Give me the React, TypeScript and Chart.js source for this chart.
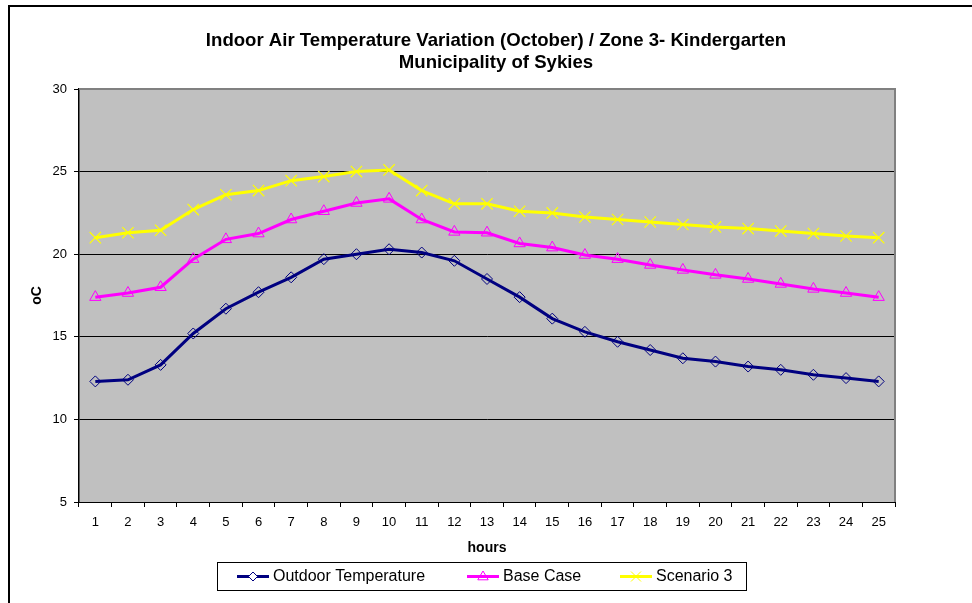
import React, { useEffect, useRef } from 'react';
import { Chart, registerables } from 'chart.js';

Chart.register(...registerables);

const hours = ['1', '2', '3', '4', '5', '6', '7', '8', '9', '10', '11', '12', '13', '14', '15', '16', '17', '18', '19', '20', '21', '22', '23', '24', '25'];
const outdoorTemperature = [12.3, 12.4, 13.3, 15.2, 16.7, 17.7, 18.6, 19.7, 20.0, 20.3, 20.1, 19.6, 18.5, 17.4, 16.1, 15.3, 14.7, 14.2, 13.7, 13.5, 13.2, 13.0, 12.7, 12.5, 12.3];
const baseCase = [17.4, 17.65, 18.0, 19.7, 20.9, 21.25, 22.1, 22.6, 23.1, 23.35, 22.1, 21.35, 21.3, 20.65, 20.4, 19.95, 19.7, 19.35, 19.05, 18.75, 18.5, 18.2, 17.9, 17.65, 17.4];
const scenario3 = [21.0, 21.3, 21.45, 22.7, 23.6, 23.85, 24.45, 24.7, 25.0, 25.1, 23.85, 23.05, 23.05, 22.6, 22.5, 22.25, 22.1, 21.95, 21.8, 21.65, 21.55, 21.4, 21.25, 21.1, 21.0];
const seriesLabels = ['Outdoor Temperature', 'Base Case', 'Scenario 3'];
const titleLines = ['Indoor Air Temperature Variation (October) / Zone 3- Kindergarten', 'Municipality of Sykies'];
const yAxisTitle = 'oC';
const xAxisTitle = 'hours';
const yMin = 5;
const yMax = 30;
const yStep = 5;

const FONT = '"Liberation Sans", Arial, sans-serif';

function drawMarker(ctx: CanvasRenderingContext2D, style: string, x: number, y: number, color: string) {
  ctx.save();
  ctx.strokeStyle = color;
  ctx.lineWidth = 1;
  ctx.beginPath();
  if (style === 'rectRot') {
    const r = 4.5;
    ctx.moveTo(x, y - r);
    ctx.lineTo(x + r, y);
    ctx.lineTo(x, y + r);
    ctx.lineTo(x - r, y);
    ctx.closePath();
    ctx.fillStyle = '#ffffff';
    ctx.fill();
  } else if (style === 'triangle') {
    const r = 5.5;
    ctx.moveTo(x, y - r);
    ctx.lineTo(x + r * 0.95, y + r * 0.6);
    ctx.lineTo(x - r * 0.95, y + r * 0.6);
    ctx.closePath();
  } else {
    const r = 5;
    ctx.moveTo(x - r, y - r);
    ctx.lineTo(x + r, y + r);
    ctx.moveTo(x + r, y - r);
    ctx.lineTo(x - r, y + r);
  }
  ctx.stroke();
  ctx.restore();
}

const decorPlugin = {
  id: 'decor',
  beforeDraw(chart: any) {
    const { ctx, chartArea: a } = chart;
    ctx.save();
    ctx.fillStyle = '#ffffff';
    ctx.fillRect(0, 0, chart.width, chart.height);
    ctx.fillStyle = '#C0C0C0';
    ctx.fillRect(a.left, a.top, a.right - a.left, a.bottom - a.top);
    ctx.fillStyle = '#000000';
    ctx.fillRect(8, 5, chart.width - 8, 2);
    ctx.fillRect(8, 5, 2, chart.height - 5);
    ctx.font = 'bold 18.6px ' + FONT;
    ctx.textAlign = 'center';
    ctx.textBaseline = 'middle';
    titleLines.forEach((t, i) => ctx.fillText(t, 496, 41 + i * 22));
    ctx.restore();
  },
  beforeDatasetsDraw(chart: any) {
    const { ctx, chartArea: a } = chart;
    ctx.save();
    ctx.strokeStyle = '#808080';
    ctx.lineWidth = 2;
    ctx.beginPath();
    ctx.moveTo(a.left, a.top);
    ctx.lineTo(a.right, a.top);
    ctx.lineTo(a.right, a.bottom);
    ctx.stroke();
    ctx.restore();
  },
  afterDraw(chart: any) {
    const { ctx } = chart;
    ctx.save();
    ctx.strokeStyle = '#000000';
    ctx.lineWidth = 1;
    ctx.strokeRect(217.5, 562.5, 529, 28);
    const starts = [237, 467, 620];
    const cy = 576.5;
    chart.data.datasets.forEach((ds: any, i: number) => {
      const x0 = starts[i];
      ctx.strokeStyle = ds.borderColor;
      ctx.lineWidth = 3;
      ctx.beginPath();
      ctx.moveTo(x0, cy);
      ctx.lineTo(x0 + 32, cy);
      ctx.stroke();
      drawMarker(ctx, ds.pointStyle, x0 + 16, cy, ds.borderColor);
      ctx.fillStyle = '#000000';
      ctx.font = '16px ' + FONT;
      ctx.textAlign = 'left';
      ctx.textBaseline = 'middle';
      ctx.fillText(ds.label, x0 + 36, cy);
    });
    ctx.restore();
  },
};

export default function App() {
  const ref = useRef<HTMLCanvasElement | null>(null);
  useEffect(() => {
    if (!ref.current) return;
    const chart = new Chart(ref.current, {
      type: 'line',
      data: {
        labels: hours,
        datasets: [
          {
            label: seriesLabels[0],
            data: outdoorTemperature,
            borderColor: '#000080',
            borderWidth: 3,
            pointStyle: 'rectRot',
            pointRadius: 5.5,
            pointBorderWidth: 1,
            pointBorderColor: '#000080',
            pointBackgroundColor: 'rgba(0,0,0,0)',
            tension: 0,
          },
          {
            label: seriesLabels[1],
            data: baseCase,
            borderColor: '#FF00FF',
            borderWidth: 3,
            pointStyle: 'triangle',
            pointRadius: 6.5,
            pointBorderWidth: 1,
            pointBorderColor: '#FF00FF',
            pointBackgroundColor: 'rgba(0,0,0,0)',
            tension: 0,
          },
          {
            label: seriesLabels[2],
            data: scenario3,
            borderColor: '#FFFF00',
            borderWidth: 3,
            pointStyle: 'crossRot',
            pointRadius: 8,
            pointBorderWidth: 1.2,
            pointBorderColor: '#FFFF00',
            pointBackgroundColor: 'rgba(0,0,0,0)',
            tension: 0,
          },
        ],
      },
      options: {
        responsive: false,
        animation: false,
        events: [],
        layout: { padding: { left: 0, right: 77, top: 89, bottom: 41 } },
        plugins: {
          legend: { display: false },
          title: { display: false },
          tooltip: { enabled: false },
        },
        scales: {
          x: {
            offset: true,
            grid: { offset: true, drawOnChartArea: false, drawTicks: true, tickLength: 5, color: '#000000' },
            border: { color: '#000000', width: 1 },
            ticks: { color: '#000000', font: { family: FONT, size: 13 }, padding: 8, maxRotation: 0, autoSkip: false },
            title: { display: true, text: xAxisTitle, color: '#000000', font: { family: FONT, size: 14, weight: 'bold' }, padding: { top: 0, bottom: 5.6 } },
            afterFit: (s: any) => { s.height = 60; },
          },
          y: {
            min: yMin,
            max: yMax,
            grid: { color: '#000000', lineWidth: 1, drawTicks: true, tickLength: 5 },
            border: { color: '#000000', width: 1.5 },
            ticks: { stepSize: yStep, color: '#000000', font: { family: FONT, size: 13 }, padding: 7 },
            title: { display: true, text: yAxisTitle, color: '#000000', font: { family: FONT, size: 14, weight: 'bold' }, padding: { top: 28.6, bottom: 0 } },
            afterFit: (s: any) => { s.width = 79; },
          },
        },
      },
      plugins: [decorPlugin],
    } as any);
    return () => chart.destroy();
  }, []);
  return (
    <div style={{ position: 'fixed', left: 0, top: 0, width: 972, height: 603, background: '#fff' }}>
      <canvas ref={ref} width={972} height={603} style={{ display: 'block', width: 972, height: 603 }} />
    </div>
  );
}
